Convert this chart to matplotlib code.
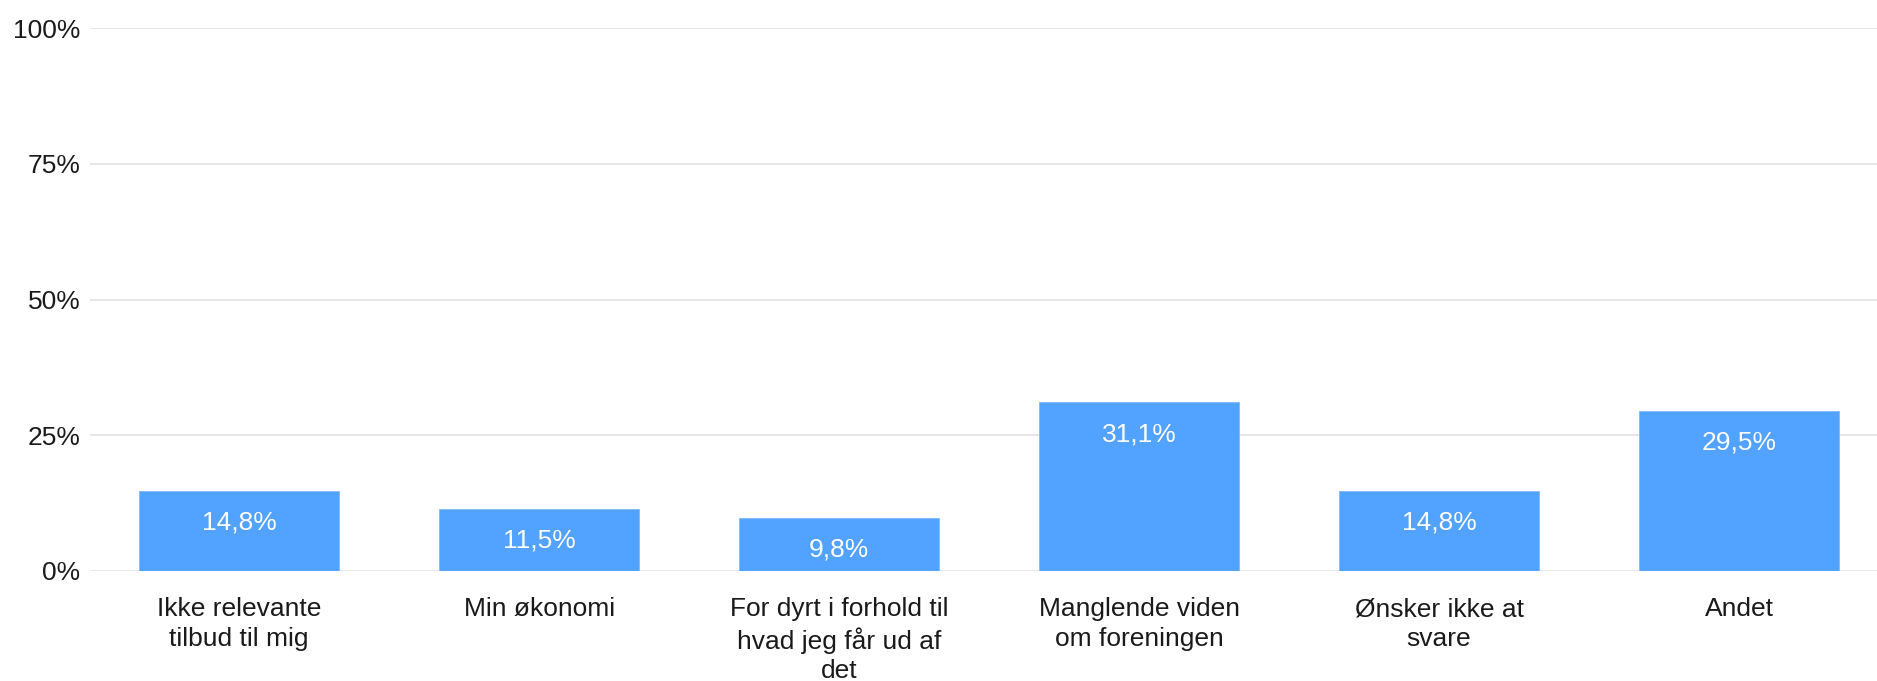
import matplotlib
matplotlib.use("Agg")
import matplotlib.pyplot as plt

plt.rcParams['font.family'] = ['Liberation Sans', 'DejaVu Sans']

categories = [
    "Ikke relevante\ntilbud til mig",
    "Min økonomi",
    "For dyrt i forhold til\nhvad jeg får ud af\ndet",
    "Manglende viden\nom foreningen",
    "Ønsker ikke at\nsvare",
    "Andet",
]
values = [14.8, 11.5, 9.8, 31.1, 14.8, 29.5]
value_labels = ["14,8%", "11,5%", "9,8%", "31,1%", "14,8%", "29,5%"]
yticks = [0, 25, 50, 75, 100]
ytick_labels = ["0%", "25%", "50%", "75%", "100%"]

bar_color = "#52a2ff"
text_color = "#1a1a1a"

fig = plt.figure(figsize=(18.77, 6.81), dpi=100)
ax = fig.add_axes([90 / 1877, 110 / 681, 1 - 90 / 1877, 543 / 681])

x = list(range(len(categories)))
ax.bar(x, values, width=0.667, color=bar_color, edgecolor="#7fbaff",
       linewidth=0.6, zorder=3)

for i, (v, lab) in enumerate(zip(values, value_labels)):
    ax.annotate(lab, (i, v), xytext=(0, -23), textcoords="offset points",
                ha="center", va="center", color="white", fontsize=19,
                zorder=4)

ax.set_xlim(-0.497, 5.46)
ax.set_ylim(0, 100)
ax.set_yticks(yticks)
ax.set_yticklabels(ytick_labels)
ax.set_xticks(x)
ax.set_xticklabels(categories, linespacing=1.28)

ax.grid(axis="y", color="#e3e3e3", linewidth=1.2, zorder=0)
ax.tick_params(axis="both", length=0, labelsize=19, labelcolor=text_color)
ax.tick_params(axis="y", pad=7)
ax.tick_params(axis="x", pad=19)
for s in ax.spines.values():
    s.set_visible(False)

fig.savefig("out.png", dpi=100)
